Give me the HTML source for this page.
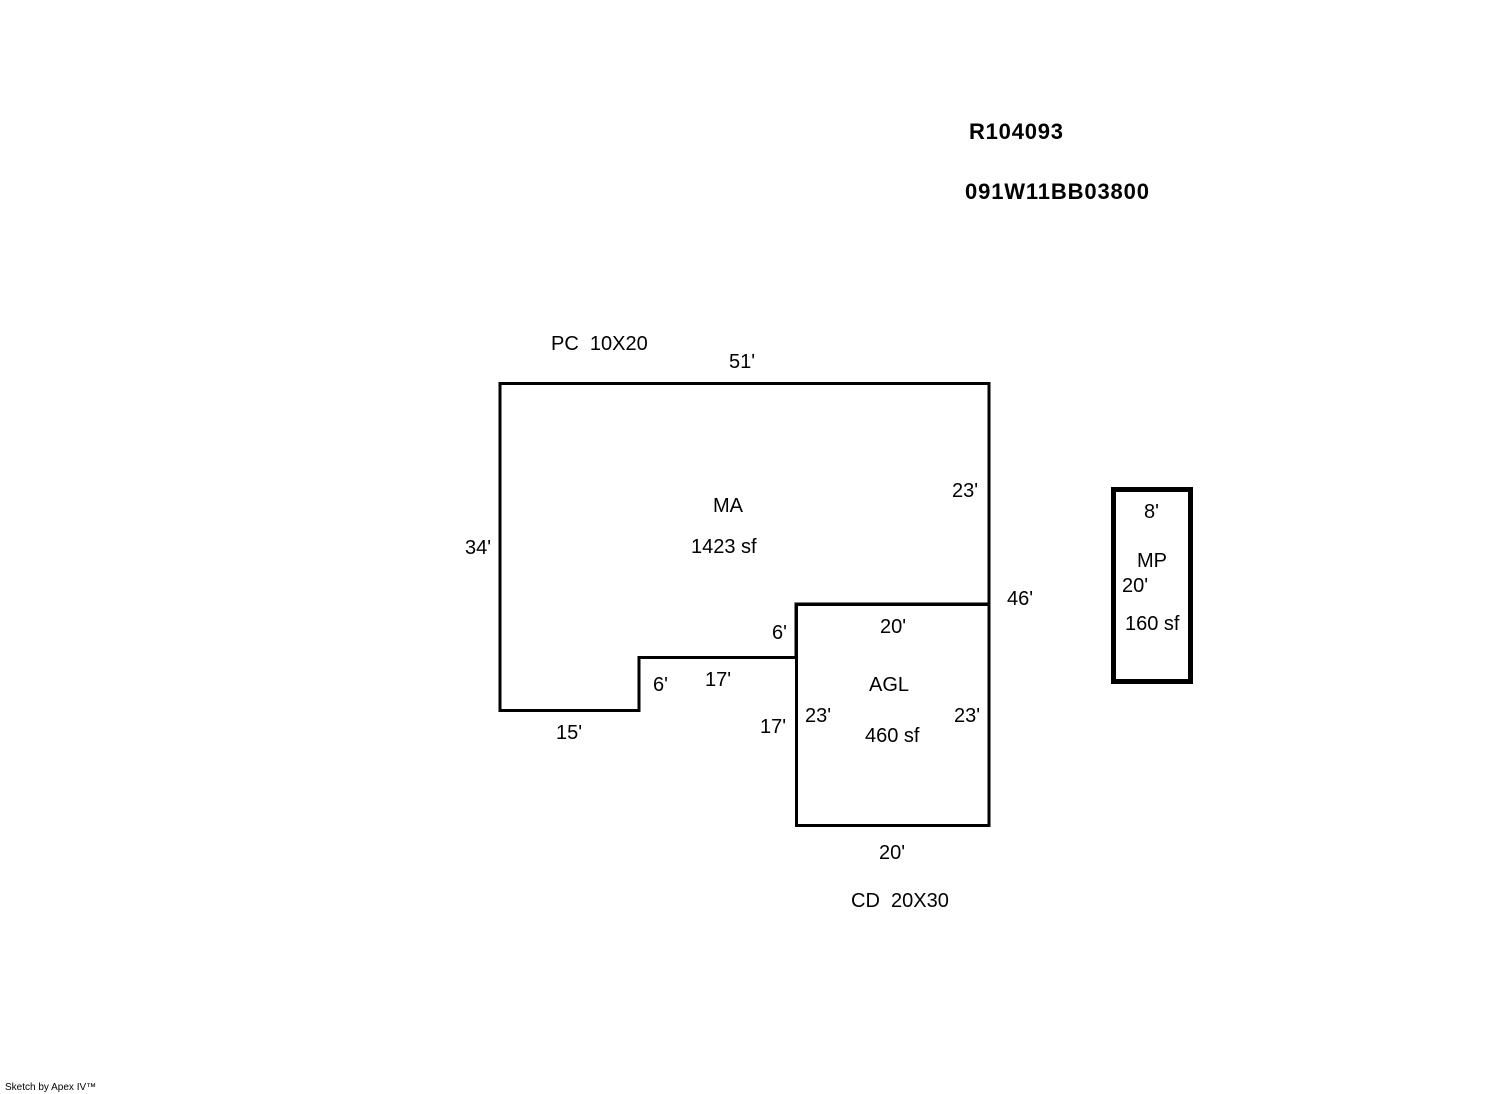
<!DOCTYPE html>
<html><head><style>html,body{margin:0;padding:0;background:#fff}svg{display:block}</style></head>
<body>
<svg width="1492" height="1094" xmlns="http://www.w3.org/2000/svg" font-family="Liberation Sans, Arial, sans-serif">
<g fill="none" stroke="#000" stroke-width="3" stroke-linejoin="miter">
<polygon points="500,383.5 989,383.5 989,604 796,604 796,657.5 639,657.5 639,710.5 500,710.5"/>
<rect x="796.5" y="604.5" width="192.5" height="221"/>
<rect x="1113.5" y="489.5" width="77" height="192" stroke-width="5"/>
</g>
<g font-size="22" font-weight="bold">
<text x="969" y="139" textLength="94">R104093</text>
<text x="965" y="199" textLength="184">091W11BB03800</text>
</g>
<g font-size="20">
<text x="551" y="350">PC &#160;10X20</text>
<text x="729" y="368">51'</text>
<text x="713" y="512">MA</text>
<text x="691" y="553">1423 sf</text>
<text x="952" y="497">23'</text>
<text x="465" y="554">34'</text>
<text x="1007" y="605">46'</text>
<text x="880" y="633">20'</text>
<text x="772" y="639">6'</text>
<text x="653" y="691">6'</text>
<text x="705" y="686">17'</text>
<text x="869" y="691">AGL</text>
<text x="805" y="722">23'</text>
<text x="954" y="722">23'</text>
<text x="760" y="733">17'</text>
<text x="865" y="742">460 sf</text>
<text x="556" y="739">15'</text>
<text x="879" y="859">20'</text>
<text x="851" y="907">CD &#160;20X30</text>
<text x="1144" y="518">8'</text>
<text x="1137" y="567">MP</text>
<text x="1122" y="592">20'</text>
<text x="1125" y="630">160 sf</text>
</g>
<text x="5" y="1090" font-size="10">Sketch by Apex IV™</text>
</svg>
</body></html>
